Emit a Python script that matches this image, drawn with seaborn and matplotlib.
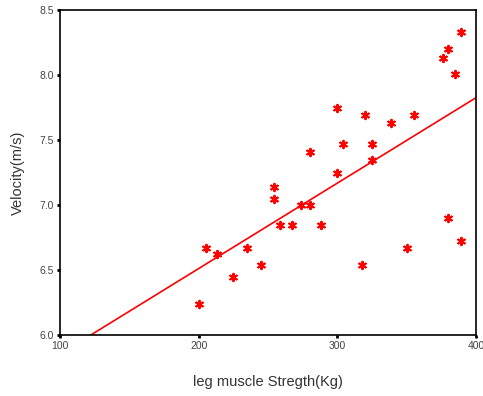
import numpy as np
import pandas as pd
import matplotlib
matplotlib.use('Agg')
import matplotlib.pyplot as plt
import seaborn as sns

# leg muscle strength (kg) vs velocity (m/s)
strength = [200, 205, 213, 225, 235, 245, 254, 254, 259, 267,
            274, 280, 288, 280, 300, 320, 304, 325, 325, 300,
            339, 355, 376, 380, 389, 385, 318, 350, 380, 389]
velocity = [6.24, 6.67, 6.62, 6.45, 6.67, 6.54, 7.14, 7.05, 6.85, 6.85,
            7.00, 7.00, 6.85, 7.41, 7.75, 7.69, 7.47, 7.47, 7.35, 7.25,
            7.63, 7.69, 8.13, 8.20, 8.33, 8.01, 6.54, 6.67, 6.90, 6.72]

df = pd.DataFrame({'strength': strength, 'velocity': velocity})

sns.set_style('white')
plt.rcParams['font.family'] = ['Liberation Sans', 'DejaVu Sans']

fig = plt.figure(figsize=(4.83, 3.96), dpi=100)
ax = fig.add_axes([60/483, 61/396, 416/483, 325/396])
# limits first so the fit line spans the whole axis
ax.set_xlim(100, 400)
ax.set_ylim(6.0, 8.5)

sns.regplot(data=df, x='strength', y='velocity', ax=ax, ci=None, truncate=False,
            marker=(6, 2, 0), color='red',
            scatter_kws={'s': 28, 'linewidths': 1.5, 'alpha': 1},
            line_kws={'lw': 1.2})

ax.set_xlim(100, 400)
ax.set_ylim(6.0, 8.5)
ax.set_xticks([100, 200, 300, 400])
ax.set_yticks([6.0, 6.5, 7.0, 7.5, 8.0, 8.5])
ax.set_yticklabels(['6.0', '6.5', '7.0', '7.5', '8.0', '8.5'])
ax.tick_params(axis='both', bottom=True, left=True, length=2.5, width=2,
               direction='out', colors='black',
               labelsize=7.5, labelcolor='#444444', pad=2)
for s in ax.spines.values():
    s.set_color('black')
    s.set_linewidth(1.2)

ax.set_xlabel('leg muscle Stregth(Kg)', fontsize=10.5, color='#333333', labelpad=17)
ax.set_ylabel('Velocity(m/s)', fontsize=10.5, color='#333333', labelpad=10)

fig.savefig('out.png', dpi=100)
